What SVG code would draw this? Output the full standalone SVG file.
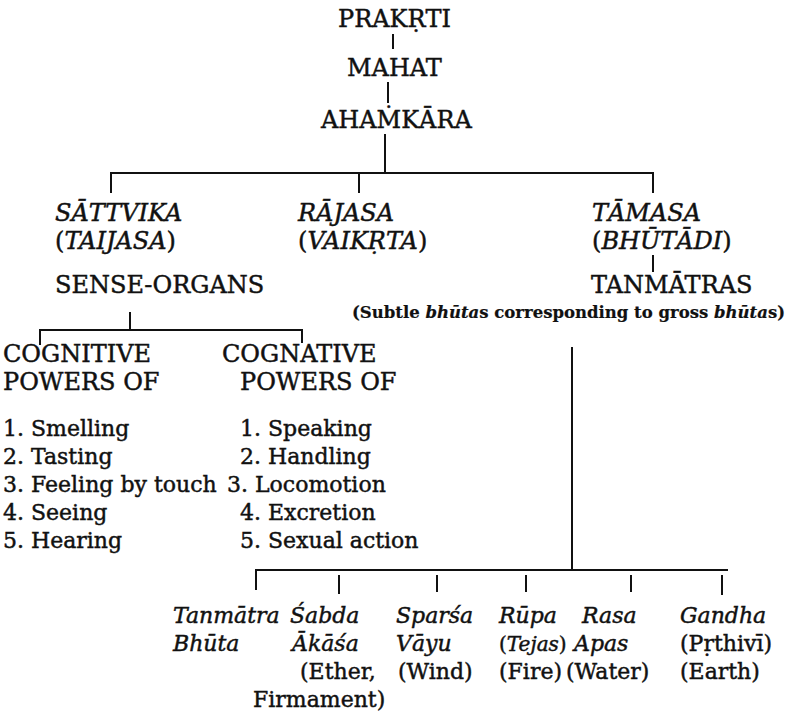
<svg xmlns="http://www.w3.org/2000/svg" width="790" height="711" viewBox="0 0 790 711">
<style>
text { font-family: "DejaVu Serif", "Liberation Serif", serif; font-size: 22px; fill: #111; stroke: #111; stroke-width: 0.45; }
.h { font-size: 24px; }
.i { font-style: italic; }
.sub { font-size: 16.5px; font-weight: bold; stroke-width: 0.2; }
.n { font-size: 20px; }
#connectors line { stroke: #111; stroke-width: 2; }
</style>
<rect width="790" height="711" fill="#ffffff"/>
<g id="connectors">
  <line x1="393" y1="34" x2="393" y2="49"/>
  <line x1="388" y1="82" x2="388" y2="103"/>
  <line x1="385" y1="134" x2="385" y2="173"/>
  <line x1="110" y1="173" x2="654" y2="173"/>
  <line x1="111" y1="172" x2="111" y2="193"/>
  <line x1="359" y1="173" x2="359" y2="193"/>
  <line x1="653" y1="172" x2="653" y2="193"/>
  <line x1="653" y1="255" x2="653" y2="272"/>
  <line x1="130" y1="312" x2="130" y2="330"/>
  <line x1="39" y1="330" x2="303" y2="330"/>
  <line x1="40" y1="329" x2="40" y2="345"/>
  <line x1="302" y1="329" x2="302" y2="343"/>
  <line x1="572" y1="347" x2="572" y2="570"/>
  <line x1="255" y1="570" x2="728" y2="570"/>
  <line x1="256" y1="569" x2="256" y2="590"/>
  <line x1="339" y1="575" x2="339" y2="594"/>
  <line x1="437" y1="575" x2="437" y2="592"/>
  <line x1="526" y1="575" x2="526" y2="592"/>
  <line x1="631" y1="575" x2="631" y2="592"/>
  <line x1="722" y1="575" x2="722" y2="595"/>
</g>
<g id="prakrti"><text class="h" x="338" y="27">PRAKṚTI</text></g>
<g id="mahat"><text class="h" x="347" y="76">MAHAT</text></g>
<g id="ahamkara"><text class="h" x="321" y="128">AHAṀKĀRA</text></g>
<g id="sattvika">
  <text class="h i" x="55" y="221">SĀTTVIKA</text>
  <text class="h" x="55" y="249">(<tspan class="i">TAIJASA</tspan>)</text>
</g>
<g id="rajasa">
  <text class="h i" x="298" y="221">RĀJASA</text>
  <text class="h" x="298" y="249">(<tspan class="i">VAIKṚTA</tspan>)</text>
</g>
<g id="tamasa">
  <text class="h i" x="592" y="221">TĀMASA</text>
  <text class="h" x="592" y="249">(<tspan class="i">BHŪTĀDI</tspan>)</text>
</g>
<g id="sense-organs"><text class="h" x="55" y="293">SENSE-ORGANS</text></g>
<g id="tanmatras">
  <text class="h" x="591" y="293">TANMĀTRAS</text>
  <text class="sub" x="785" y="318" text-anchor="end">(Subtle <tspan class="i">bhūta</tspan>s corresponding to gross <tspan class="i">bhūta</tspan>s)</text>
</g>
<g id="cognitive">
  <text class="h" x="3" y="362">COGNITIVE</text>
  <text class="h" x="3" y="390">POWERS OF</text>
  <text x="3" y="436">1. Smelling</text>
  <text x="3" y="464">2. Tasting</text>
  <text x="3" y="492">3. Feeling by touch</text>
  <text x="3" y="520">4. Seeing</text>
  <text x="3" y="548">5. Hearing</text>
</g>
<g id="cognative">
  <text class="h" x="222" y="362">COGNATIVE</text>
  <text class="h" x="240" y="390">POWERS OF</text>
  <text x="240" y="436">1. Speaking</text>
  <text x="240" y="464">2. Handling</text>
  <text x="227" y="492">3. Locomotion</text>
  <text x="240" y="520">4. Excretion</text>
  <text x="240" y="548">5. Sexual action</text>
</g>
<g id="header-col">
  <text class="i" x="173" y="623">Tanmātra</text>
  <text class="i" x="173" y="651">Bhūta</text>
</g>
<g id="sabda">
  <text class="i" x="290" y="623">Śabda</text>
  <text class="i" x="292" y="651">Ākāśa</text>
  <text x="300" y="679">(Ether,</text>
  <text x="253" y="707">Firmament)</text>
</g>
<g id="sparsa">
  <text class="i" x="396" y="623">Sparśa</text>
  <text class="i" x="396" y="651">Vāyu</text>
  <text x="398" y="679">(Wind)</text>
</g>
<g id="rupa">
  <text class="i" x="499" y="623">Rūpa</text>
  <text class="n" x="499" y="651">(<tspan class="i">Tejas</tspan>)</text>
  <text x="499" y="679">(Fire)</text>
</g>
<g id="rasa">
  <text class="i" x="582" y="623">Rasa</text>
  <text class="i" x="574" y="651">Apas</text>
  <text x="566" y="679">(Water)</text>
</g>
<g id="gandha">
  <text class="i" x="680" y="623">Gandha</text>
  <text x="680" y="651">(Pṛthivī)</text>
  <text x="680" y="679">(Earth)</text>
</g>
</svg>
